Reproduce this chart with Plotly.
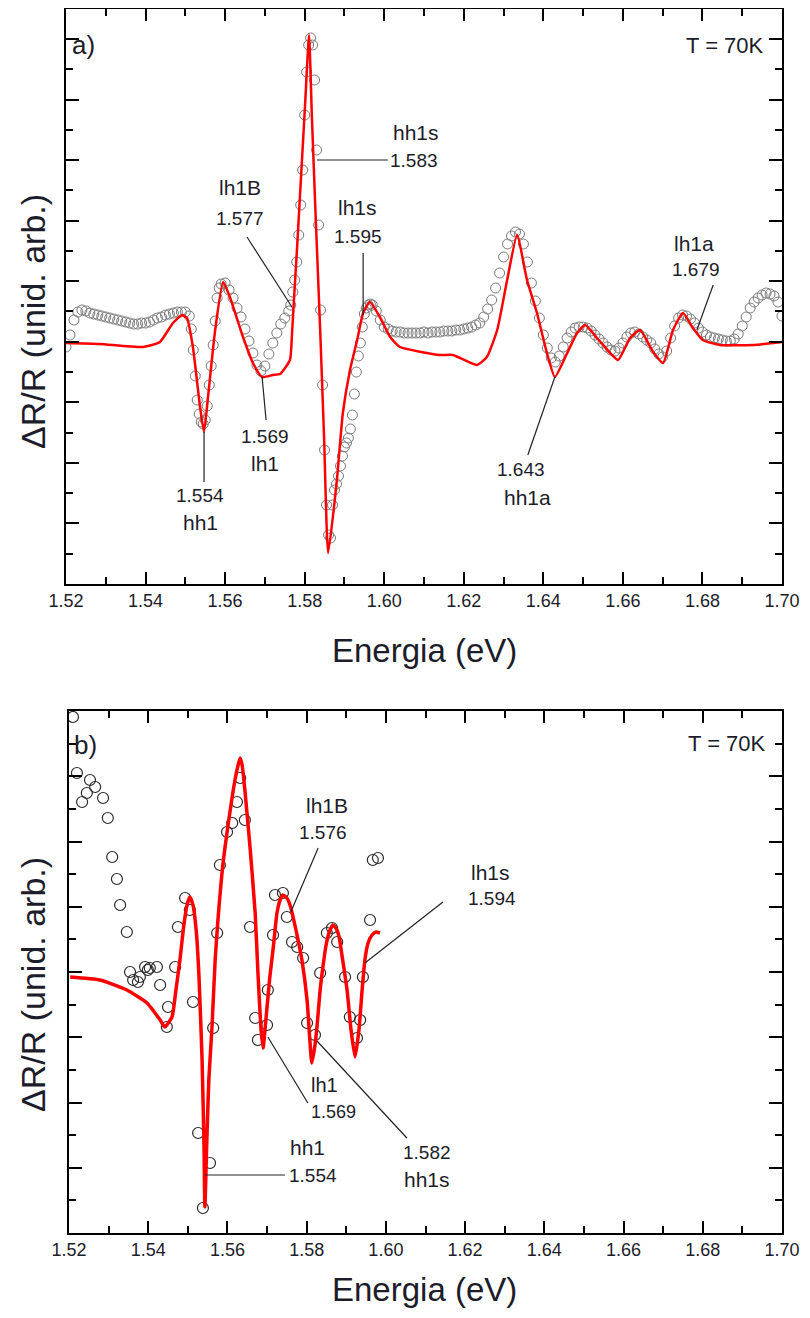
import plotly.graph_objects as go

# ---------------- data: panel a) (experimental circles) ----------------
exp_a_E = [
    1.520, 1.521, 1.522, 1.523, 1.524, 1.525, 1.526, 1.527, 1.528, 1.529,
    1.530, 1.531, 1.532, 1.533, 1.534, 1.535, 1.536, 1.537, 1.538, 1.539,
    1.540, 1.541, 1.542, 1.543, 1.544, 1.545, 1.546, 1.547, 1.548, 1.549,
    1.550,
    1.5510, 1.5515, 1.5520, 1.5525, 1.5530, 1.5535, 1.5540, 1.5545, 1.5550, 1.5555,
    1.5560, 1.5565, 1.5570, 1.5575, 1.5580, 1.5585, 1.5590,
    1.560, 1.561, 1.562, 1.563, 1.564, 1.565, 1.566, 1.567, 1.568, 1.569,
    1.570, 1.571, 1.572, 1.573, 1.574, 1.575,
    1.5760, 1.5765, 1.5770, 1.5775, 1.5780, 1.5785, 1.5790, 1.5795, 1.5800, 1.5805,
    1.5810, 1.5815, 1.5820, 1.5825, 1.5830, 1.5835, 1.5840, 1.5845, 1.5850, 1.5855,
    1.5860, 1.5865, 1.5870, 1.5875, 1.5880, 1.5885, 1.5890, 1.5895, 1.5900, 1.5905,
    1.5910, 1.5915, 1.5920, 1.5925, 1.5930, 1.5935, 1.5940, 1.5945, 1.5950, 1.5955,
    1.5960, 1.5965, 1.5970,
    1.598, 1.599,
    1.600, 1.601, 1.602, 1.603, 1.604, 1.605, 1.606, 1.607, 1.608, 1.609,
    1.610, 1.611, 1.612, 1.613, 1.614, 1.615, 1.616, 1.617, 1.618, 1.619,
    1.620, 1.621, 1.622, 1.623, 1.624, 1.625, 1.626, 1.627, 1.628, 1.629,
    1.630, 1.631, 1.632, 1.633, 1.634, 1.635, 1.636, 1.637, 1.638, 1.639,
    1.640, 1.641, 1.642, 1.643, 1.644, 1.645, 1.646, 1.647, 1.648, 1.649,
    1.650, 1.651, 1.652, 1.653, 1.654, 1.655, 1.656, 1.657, 1.658, 1.659,
    1.660, 1.661, 1.662, 1.663, 1.664, 1.665, 1.666, 1.667, 1.668, 1.669,
    1.670, 1.671, 1.672, 1.673, 1.674, 1.675, 1.676, 1.677, 1.678, 1.679,
    1.680, 1.681, 1.682, 1.683, 1.684, 1.685, 1.686, 1.687, 1.688, 1.689,
    1.690, 1.691, 1.692, 1.693, 1.694, 1.695, 1.696, 1.697, 1.698, 1.699,
    1.700,
]
exp_a_R = [
    237, 249, 264, 272, 274, 273, 271, 270, 269, 268,
    267, 266, 265, 264, 263, 262, 261, 260, 260, 261,
    261, 262, 264, 266, 267, 269, 270, 271, 272, 272,
    272,
    268, 255, 234, 208, 184, 170, 162, 160, 164, 178,
    199, 218, 239, 263, 286, 296, 300,
    301, 294, 286, 276, 267, 255, 243, 231, 219, 213,
    218, 230, 241, 251, 260, 266,
    273, 279, 292, 304, 322, 349, 379, 414, 469, 512,
    539, 546, 539, 504, 434, 359, 274, 199, 134, 79,
    49, 46, 79, 94, 100, 108, 118, 128, 137, 141,
    146, 155, 169, 190, 212, 228, 241, 257, 270, 276,
    279, 280, 279,
    273, 264,
    257, 255, 253, 252, 252, 251, 251, 251, 251, 251,
    252, 251, 252, 252, 252, 253, 253, 253, 254, 254,
    255, 256, 257, 259, 261, 267, 275, 284, 296, 311,
    327, 340, 348, 352, 350, 340, 322, 301, 283, 266,
    249, 236, 226, 222, 228, 237, 246, 252, 256, 257,
    257, 256, 253, 249, 245, 241, 237, 234, 233, 236,
    241, 247, 251, 252, 250, 247, 244, 241, 235, 230,
    227, 233, 246, 258, 266, 269, 268, 265, 261, 256,
    252, 249, 247, 246, 245, 244, 243, 243, 245, 250,
    258, 267, 276, 282, 286, 289, 291, 290, 288, 282,
    268,
]

# ---------------- data: panel a) (fit, red line) ----------------
fit_a_E = [
    1.5200, 1.5285, 1.5394, 1.5436, 1.5469, 1.5492, 1.5504, 1.5519, 1.5537, 1.5547,
    1.5557, 1.5575, 1.5595, 1.5612, 1.5645, 1.5670, 1.5693, 1.5720, 1.5738, 1.5763,
    1.5768, 1.5773, 1.5781, 1.5791, 1.5801, 1.5811, 1.5818, 1.5828, 1.5839, 1.5849,
    1.5859, 1.5881, 1.5896, 1.5914, 1.5932, 1.5947, 1.5964, 1.5989, 1.6015, 1.6040,
    1.6140, 1.6173, 1.6233, 1.6258, 1.6284, 1.6309, 1.6334, 1.6359, 1.6384, 1.6409,
    1.6429, 1.6460, 1.6485, 1.6505, 1.6535, 1.6568, 1.6588, 1.6618, 1.6643, 1.6676,
    1.6701, 1.6726, 1.6751, 1.6776, 1.6801, 1.6844, 1.6927, 1.7000,
]
fit_a_R = [
    241, 240, 237, 242, 261, 269, 266, 237, 177, 152,
    187, 254, 302, 287, 247, 221, 207, 209, 210, 224,
    249, 284, 337, 408, 479, 549, 469, 364, 254, 144,
    31, 104, 171, 214, 244, 271, 282, 267, 247, 237,
    229, 229, 219, 227, 254, 304, 349, 304, 271, 231,
    207, 231, 251, 259, 246, 231, 224, 246, 254, 232,
    221, 254, 271, 256, 244, 239, 239, 242,
]

# ---------------- data: panel b) (experimental circles) ----------------
exp_b_E = [
    1.5210, 1.5220, 1.5233, 1.5245, 1.5253, 1.5266, 1.5286, 1.5298, 1.5309, 1.5321,
    1.5329, 1.5346, 1.5354, 1.5362, 1.5374, 1.5379, 1.5392, 1.5399, 1.5404, 1.5422,
    1.5430, 1.5447, 1.5450, 1.5468, 1.5475, 1.5493, 1.5505, 1.5513, 1.5526, 1.5538,
    1.5556, 1.5564, 1.5574, 1.5581, 1.5599, 1.5612, 1.5624, 1.5632, 1.5644, 1.5657,
    1.5670, 1.5677, 1.5700, 1.5702, 1.5715, 1.5720, 1.5740, 1.5750, 1.5763, 1.5776,
    1.5791, 1.5801, 1.5821, 1.5834, 1.5851, 1.5864, 1.5877, 1.5897, 1.5909, 1.5927,
    1.5935, 1.5942, 1.5960, 1.5967, 1.5980,
]
exp_b_R = [
    516, 460, 431, 440, 453, 446, 435, 415, 376, 354,
    328, 301, 261, 253, 251, 256, 266, 263, 265, 266,
    248, 206, 226, 266, 306, 335, 323, 231, 100, 25,
    70, 205, 300, 368, 401, 410, 431, 455, 413, 306,
    215, 193, 208, 243, 298, 338, 340, 316, 291, 286,
    275, 210, 198, 260, 300, 305, 291, 256, 216, 195,
    213, 256, 313, 373, 375,
]

# ---------------- data: panel b) (fit, red line) ----------------
fit_b_E = [
    1.5203, 1.5278, 1.5346, 1.5397, 1.5430, 1.5442, 1.5460, 1.5470, 1.5480, 1.5490,
    1.5498, 1.5505, 1.5513, 1.5521, 1.5528, 1.5536, 1.5541, 1.5543, 1.5548, 1.5553,
    1.5561, 1.5569, 1.5576, 1.5589, 1.5606, 1.5619, 1.5627, 1.5632, 1.5637, 1.5644,
    1.5657, 1.5670, 1.5677, 1.5685, 1.5690, 1.5697, 1.5707, 1.5715, 1.5725, 1.5733,
    1.5740, 1.5750, 1.5758, 1.5773, 1.5788, 1.5801, 1.5808, 1.5813, 1.5821, 1.5826,
    1.5834, 1.5841, 1.5849, 1.5859, 1.5866, 1.5874, 1.5882, 1.5889, 1.5902, 1.5912,
    1.5922, 1.5932, 1.5940, 1.5947, 1.5955, 1.5965, 1.5975, 1.5985,
]
fit_b_R = [
    256, 253, 243, 230, 213, 206, 216, 243, 273, 308,
    328, 336, 328, 303, 258, 173, 83, 26, 93, 153,
    206, 273, 313, 370, 420, 453, 468, 475, 468, 443,
    386, 320, 260, 203, 185, 213, 256, 283, 320, 333,
    338, 335, 328, 303, 273, 233, 193, 170, 188, 206,
    243, 266, 288, 303, 308, 305, 296, 278, 243, 203,
    176, 203, 243, 273, 290, 298, 301, 300,
]

# ---------------- axis ticks ----------------
x_tickvals = [1.52, 1.54, 1.56, 1.58, 1.60, 1.62, 1.64, 1.66, 1.68, 1.70]
x_ticktext = ["1.52", "1.54", "1.56", "1.58", "1.60", "1.62", "1.64", "1.66", "1.68", "1.70"]

# annotations: (text, E, R, anchor, size)
labels_a = [
    ("hh1s", 1.6016, 452, "left", 21), ("1.583", 1.6009, 424, "left", 19),
    ("lh1B", 1.5637, 397, "center", 21), ("1.577", 1.5637, 366, "center", 19),
    ("lh1s", 1.5934, 377, "center", 21), ("1.595", 1.5934, 348, "center", 19),
    ("1.554", 1.5537, 89, "center", 19), ("hh1", 1.5537, 62, "center", 21),
    ("1.569", 1.5700, 148, "center", 19), ("lh1", 1.5700, 121, "center", 21),
    ("1.643", 1.6344, 115, "center", 19), ("hh1a", 1.6359, 87, "center", 21),
    ("lh1a", 1.6779, 341, "center", 21), ("1.679", 1.6784, 315, "center", 19),
]
leaders_a = [
    (1.5831, 424, 1.6009, 424), (1.5655, 347, 1.5768, 277), (1.5947, 331, 1.5947, 269),
    (1.5547, 152, 1.5547, 102), (1.5693, 207, 1.5703, 164), (1.6429, 207, 1.6361, 129),
    (1.6827, 299, 1.6786, 254),
]
labels_b = [
    ("lh1B", 1.5851, 428, "center", 21), ("1.576", 1.5841, 401, "center", 19),
    ("lh1s", 1.6265, 361, "center", 21), ("1.594", 1.6268, 335, "center", 19),
    ("lh1", 1.5806, 148, "left", 20), ("1.569", 1.5806, 121, "left", 18),
    ("1.582", 1.6104, 81, "center", 19), ("hh1s", 1.6104, 54, "center", 21),
    ("hh1", 1.5753, 86, "left", 21), ("1.554", 1.5750, 58, "left", 19),
]
leaders_b = [
    (1.5829, 385, 1.5760, 321), (1.6144, 331, 1.5947, 270), (1.5702, 196, 1.5803, 130),
    (1.5826, 192, 1.6053, 95), (1.5543, 58, 1.5745, 58),
]

# page body adds an 8 px margin around the figure
OFF = 8
W, H = 810 - 2 * OFF, 1318 - 2 * OFF
FONT = "Liberation Sans, Arial, Helvetica, sans-serif"
TXT = "#1c1c2a"


def px(x):
    return (x - OFF) / W


def py(y):
    return 1 - (y - OFF) / H


fig = go.Figure()
fig.add_trace(go.Scatter(x=exp_a_E, y=exp_a_R, mode="markers", xaxis="x", yaxis="y",
                         marker=dict(symbol="circle-open", size=10, color="#7a7a7a",
                                     line=dict(width=1)), showlegend=False))
fig.add_trace(go.Scatter(x=fit_a_E, y=fit_a_R, mode="lines", xaxis="x", yaxis="y",
                         line=dict(color="#ff0000", width=2.5, shape="spline", smoothing=0.5),
                         showlegend=False))
fig.add_trace(go.Scatter(x=exp_b_E, y=exp_b_R, mode="markers", xaxis="x2", yaxis="y2",
                         marker=dict(symbol="circle-open", size=11, color="#2a2a2a",
                                     line=dict(width=1.2)), showlegend=False))
fig.add_trace(go.Scatter(x=fit_b_E, y=fit_b_R, mode="lines", xaxis="x2", yaxis="y2",
                         line=dict(color="#ff0000", width=3.5, shape="spline", smoothing=0.5),
                         showlegend=False))


def xax(domain, anchor):
    return dict(domain=domain, anchor=anchor, range=[1.52, 1.70], tickvals=x_tickvals,
                ticktext=x_ticktext, ticks="inside", ticklen=12, tickwidth=1.5,
                tickcolor="black", showline=True, linecolor="black", linewidth=1.5,
                mirror="ticks", showgrid=False, zeroline=False, automargin=False,
                tickfont=dict(family=FONT, size=18, color=TXT),
                minor=dict(dtick=0.01, tick0=1.52, ticks="inside", ticklen=7,
                           tickwidth=1.5, tickcolor="black", showgrid=False))


def yax(domain, anchor, rmax, dt):
    return dict(domain=domain, anchor=anchor, range=[0, rmax], tick0=0, dtick=dt,
                ticks="inside", ticklen=13, tickwidth=1.5, tickcolor="black",
                showticklabels=False, showline=True, linecolor="black", linewidth=1.5,
                mirror="ticks", showgrid=False, zeroline=False, automargin=False,
                minor=dict(dtick=dt / 2, tick0=0, ticks="inside", ticklen=7,
                           tickwidth=1.5, tickcolor="black", showgrid=False))


fig.update_layout(
    width=W, height=H, margin=dict(l=0, r=0, t=0, b=0),
    paper_bgcolor="white", plot_bgcolor="white", showlegend=False,
    xaxis=xax([px(66), px(782)], "y"),
    yaxis=yax([py(584), py(9)], "x", 575, 60.56),
    xaxis2=xax([px(69), px(782)], "y2"),
    yaxis2=yax([py(1233), py(711)], "x2", 522, 65.25),
)

anns = []
shapes = []
for (t, e, r, anc, s) in labels_a:
    anns.append(dict(text=t, x=e, y=r, xref="x", yref="y", xanchor=anc, yanchor="middle",
                     showarrow=False, font=dict(family=FONT, size=s, color=TXT)))
for (t, e, r, anc, s) in labels_b:
    anns.append(dict(text=t, x=e, y=r, xref="x2", yref="y2", xanchor=anc, yanchor="middle",
                     showarrow=False, font=dict(family=FONT, size=s, color=TXT)))
for (x0, y0, x1, y1) in leaders_a:
    shapes.append(dict(type="line", x0=x0, y0=y0, x1=x1, y1=y1, xref="x", yref="y",
                       line=dict(color="#222222", width=1.2)))
for (x0, y0, x1, y1) in leaders_b:
    shapes.append(dict(type="line", x0=x0, y0=y0, x1=x1, y1=y1, xref="x2", yref="y2",
                       line=dict(color="#222222", width=1.2)))

# panel tags and temperature
for (t, xp, yp, anc, s) in [("a)", 70, 45, "left", 26), ("T = 70K", 766, 45, "right", 22),
                             ("b)", 72, 745, "left", 26), ("T = 70K", 768, 743, "right", 22)]:
    anns.append(dict(text=t, x=px(xp), y=py(yp), xref="paper", yref="paper",
                     xanchor=anc, yanchor="middle", showarrow=False,
                     font=dict(family=FONT, size=s, color=TXT)))

# axis titles
for yp in (650, 1289):
    anns.append(dict(text="Energia (eV)", x=px(424), y=py(yp), xref="paper", yref="paper",
                     xanchor="center", yanchor="middle", showarrow=False,
                     font=dict(family=FONT, size=33, color=TXT)))
for yp in (322, 985):
    anns.append(dict(text="ΔR/R (unid. arb.)", x=px(33), y=py(yp), xref="paper",
                     yref="paper", xanchor="center", yanchor="middle", textangle=-90,
                     showarrow=False, font=dict(family=FONT, size=34, color=TXT)))

fig.update_layout(annotations=anns, shapes=shapes)
fig.write_html("out.html")
